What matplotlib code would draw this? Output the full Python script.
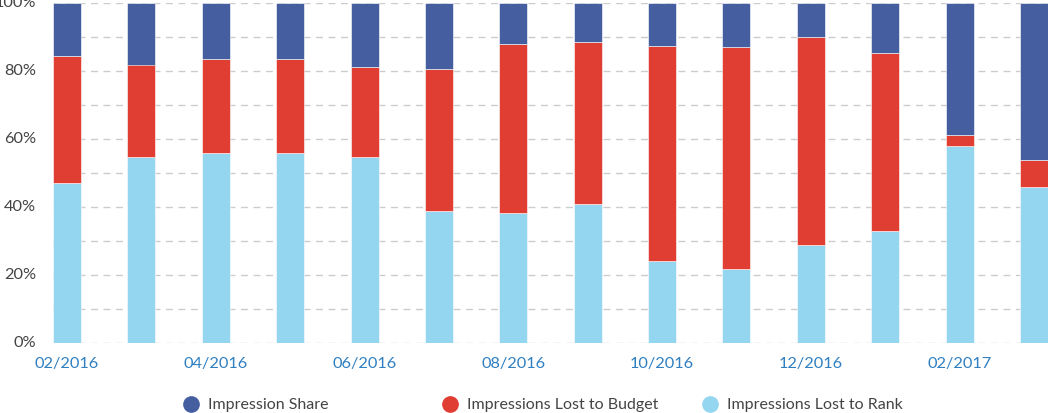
import matplotlib
matplotlib.use("Agg")
import matplotlib.pyplot as plt
from matplotlib.lines import Line2D
import numpy as np

months = ["02/2016", "03/2016", "04/2016", "05/2016", "06/2016", "07/2016", "08/2016",
          "09/2016", "10/2016", "11/2016", "12/2016", "01/2017", "02/2017", "03/2017"]
lost_rank = [47.2, 54.9, 56.0, 56.0, 54.9, 38.9, 38.3, 40.9, 24.3, 21.9, 28.9, 33.0, 58.1, 46.0]
lost_budget = [37.2, 27.1, 27.5, 27.5, 26.5, 41.9, 49.6, 47.6, 63.2, 65.2, 61.1, 52.5, 3.3, 8.0]
impression_share = [100 - r - b for r, b in zip(lost_rank, lost_budget)]

series_names = ["Impression Share", "Impressions Lost to Budget", "Impressions Lost to Rank"]
colors = {"Impression Share": "#445ea0",
          "Impressions Lost to Budget": "#e03d33",
          "Impressions Lost to Rank": "#94d6f0"}

plt.rcParams['font.family'] = ['Lato', 'DejaVu Sans']

fig = plt.figure(figsize=(10.48, 4.13), dpi=100)
ax = fig.add_axes([53 / 1048, (413 - 343.3) / 413, 1 - 53 / 1048, 340 / 413])

x = np.arange(len(months))
w = 0.376
ax.bar(x, lost_rank, w, color=colors["Impressions Lost to Rank"], edgecolor="white", linewidth=0.4, zorder=3)
ax.bar(x, lost_budget, w, bottom=lost_rank, color=colors["Impressions Lost to Budget"],
       edgecolor="white", linewidth=0.4, zorder=3)
bottom2 = [r + b for r, b in zip(lost_rank, lost_budget)]
ax.bar(x, impression_share, w, bottom=bottom2, color=colors["Impression Share"],
       edgecolor="white", linewidth=0.4, zorder=3)

ax.set_xlim(-w / 2, len(months) - 1 + w / 2)
ax.set_ylim(0, 100)
ax.set_yticks(np.arange(0, 101, 20))
ax.set_yticks(np.arange(0, 101, 10), minor=True)
ax.set_yticklabels([f"{v}%" for v in range(0, 101, 20)])
ax.grid(axis="y", which="both", color="#cccccc", linestyle=(0, (5, 4)), linewidth=1, zorder=0)
ax.set_xticks(x[::2])
ax.set_xticklabels(months[::2])
for s in ax.spines.values():
    s.set_visible(False)
ax.tick_params(axis="both", which="both", length=0)
ax.tick_params(axis="y", labelsize=11.8, labelcolor="#444444", pad=12)
ax.tick_params(axis="x", labelsize=11.8, labelcolor="#2f7fc1", pad=10)
for lbl in ax.get_yticklabels():
    lbl.set_verticalalignment("center")

legend_x = [183, 442, 702]
for name, lx in zip(series_names, legend_x):
    h = Line2D([0], [0], marker="o", linestyle="none", markersize=11,
               markerfacecolor=colors[name], markeredgecolor=colors[name])
    fig.legend([h], [name], loc="center left", bbox_to_anchor=(lx / 1048, 1 - 405 / 413),
               frameon=False, fontsize=11.5, labelcolor="#444444",
               handletextpad=0.55, handlelength=1.0, borderpad=0, borderaxespad=0)

fig.savefig("out.png", dpi=100)
